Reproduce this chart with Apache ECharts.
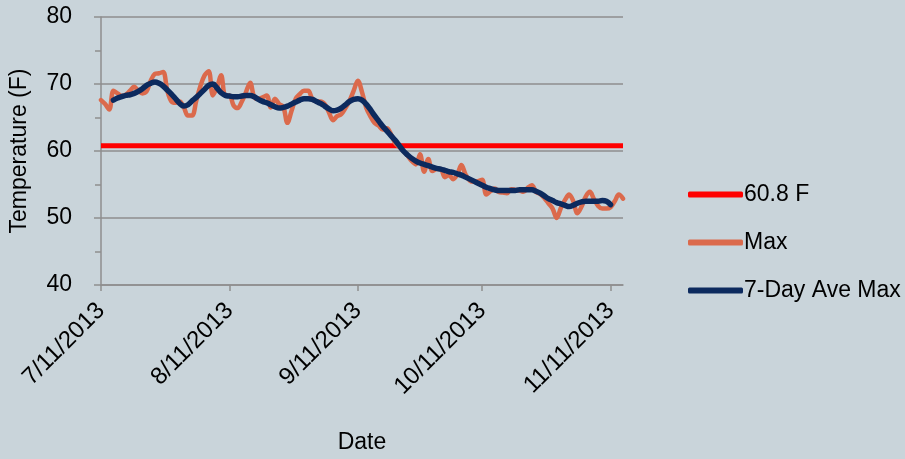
<!DOCTYPE html>
<html>
<head>
<meta charset="utf-8">
<script src="https://cdn.jsdelivr.net/npm/echarts@6/dist/echarts.min.js"></script>
<style>
html,body{margin:0;padding:0;background:#C9D4DA;width:100%;height:100%;overflow:hidden;}
#chart{width:100vw;height:100vh;}
</style>
</head>
<body>
<div id="chart"></div>
<script>
// Daily dates 7/11/2013 .. 11/14/2013
const startDate = [2013, 6, 11];
const dayCount = 127;
const categories = [];
for (let i = 0; i < dayCount; i++) {
  const d = new Date(Date.UTC(startDate[0], startDate[1], startDate[2] + i));
  categories.push((d.getUTCMonth() + 1) + '/' + d.getUTCDate() + '/' + d.getUTCFullYear());
}

const thresholdValue = 60.8;

const maxTemp = [
  67.6, 67.0, 66.2, 69.0, 68.6, 68.2, 68.4, 69.0, 69.6, 69.0,
  68.6, 68.9, 70.5, 71.5, 71.6, 71.8, 69.0, 67.4, 67.2, 67.4,
  66.5, 65.3, 65.3, 67.5, 69.7, 71.3, 71.9, 68.3, 69.5, 71.3,
  68.3, 68.3, 66.8, 66.4, 67.4, 68.8, 70.2, 68.0, 67.8, 68.0,
  68.3, 66.5, 67.8, 67.0, 66.6, 64.2, 66.0, 67.8, 68.5, 69.0,
  69.0, 67.8, 67.4, 67.4, 67.0, 65.8, 64.6, 65.2, 65.5, 66.4,
  67.5, 69.0, 70.5, 68.8, 66.5, 65.2, 64.2, 63.8, 63.2, 63.4,
  62.5, 61.2, 60.6, 60.0, 59.3, 58.5, 58.0, 59.5, 56.9, 58.8,
  57.0, 57.3, 57.3, 56.1, 56.4, 55.8, 56.5, 57.9, 56.5, 55.6,
  55.4, 55.5, 55.7, 53.5, 54.0, 54.4, 53.9, 53.8, 53.7, 54.3,
  54.2, 54.1, 53.9, 54.5, 54.9, 53.9, 53.6, 53.0, 52.2, 51.4,
  50.0, 51.5, 52.7, 53.5, 52.5, 50.7, 51.7, 53.2, 53.9, 52.8,
  51.8, 51.4, 51.4, 51.6, 52.5, 53.5, 52.9
];

const aveMax7 = [
  null, null, null, 67.6, 67.9, 68.1, 68.3, 68.4, 68.6, 68.9,
  69.3, 69.8, 70.1, 70.3, 70.1, 69.7, 69.1, 68.5, 67.8, 67.1,
  66.7, 66.9, 67.5, 68.0, 68.6, 69.2, 69.8, 70.0, 69.4, 68.7,
  68.3, 68.2, 68.1, 68.1, 68.2, 68.3, 68.3, 68.1, 67.7, 67.4,
  67.2, 66.9, 66.6, 66.4, 66.5, 66.7, 67.0, 67.3, 67.6, 67.8,
  67.8, 67.7, 67.4, 67.1, 66.7, 66.3, 66.0, 66.1, 66.4, 66.9,
  67.4, 67.7, 67.8, 67.6, 67.0, 66.2, 65.3, 64.5, 63.7, 63.0,
  62.3, 61.6, 60.8, 60.0, 59.4, 58.9, 58.5, 58.2, 58.0, 57.8,
  57.6, 57.4, 57.3, 57.1, 56.9, 56.8, 56.6, 56.4, 56.1, 55.8,
  55.5, 55.2, 54.9, 54.6, 54.4, 54.2, 54.1, 54.1, 54.1, 54.1,
  54.1, 54.2, 54.2, 54.2, 54.2, 54.0, 53.7, 53.3, 52.9, 52.6,
  52.3, 52.1, 51.9, 51.7, 51.9, 52.2, 52.4, 52.5, 52.5, 52.5,
  52.5, 52.6, 52.5, 52.0, null, null, null
];

const thresholdSeries = categories.map(() => thresholdValue);
const seriesNames = ['60.8 F', 'Max', '7-Day Ave Max'];
const yTicks = { min: 40, max: 80, step: 10 };

const FONT = 'Liberation Sans';
const FS = 23;
const gridColor = '#8E8E8E';
const isLabelDay = (idx, val) => val.split('/')[1] === '11';

const chart = echarts.init(document.getElementById('chart'), null, { renderer: 'canvas' });
chart.setOption({
  backgroundColor: '#C9D4DA',
  animation: false,
  textStyle: { fontFamily: FONT, color: '#000' },
  grid: { left: 97, right: 282, top: 17, bottom: 168, containLabel: false },
  legend: {
    orient: 'vertical',
    left: 683,
    top: 178,
    itemWidth: 55,
    itemHeight: 6,
    itemGap: 25,
    icon: 'roundRect',
    textStyle: { fontFamily: FONT, fontSize: FS, color: '#000', padding: [0, 0, 0, -4] },
    data: seriesNames
  },
  xAxis: {
    type: 'category',
    data: categories,
    boundaryGap: false,
    name: 'Date',
    nameLocation: 'middle',
    nameGap: 146,
    nameTextStyle: { fontFamily: FONT, fontSize: FS, color: '#000' },
    axisLine: { lineStyle: { color: gridColor, width: 1.5 } },
    axisTick: { show: true, interval: isLabelDay, length: 6, lineStyle: { color: gridColor, width: 1.5 } },
    axisLabel: {
      interval: isLabelDay,
      rotate: 45,
      margin: 22,
      fontFamily: FONT,
      fontSize: 24,
      color: '#000'
    },
    splitLine: { show: false }
  },
  yAxis: {
    type: 'value',
    min: yTicks.min,
    max: yTicks.max,
    interval: yTicks.step,
    name: 'Temperature (F)',
    nameLocation: 'middle',
    nameGap: 70,
    nameRotate: 90,
    nameTextStyle: { fontFamily: FONT, fontSize: FS, color: '#000' },
    axisLine: { show: true, lineStyle: { color: gridColor, width: 1.5 } },
    axisTick: { show: true, length: 7, lineStyle: { color: gridColor, width: 1.5 } },
    minorTick: { show: true, splitNumber: 2, length: 6, lineStyle: { color: gridColor, width: 1.5 } },
    axisLabel: { margin: 29, fontFamily: FONT, fontSize: FS, color: '#000' },
    splitLine: { show: true, lineStyle: { color: gridColor, width: 1.5 } }
  },
  series: [
    {
      name: seriesNames[0],
      type: 'line',
      data: thresholdSeries,
      symbol: 'none',
      lineStyle: { color: '#FF0000', width: 5 },
      itemStyle: { color: '#FF0000' },
      z: 2
    },
    {
      name: seriesNames[1],
      type: 'line',
      data: maxTemp,
      symbol: 'none',
      smooth: 0.35,
      lineStyle: { color: '#DB6A4C', width: 4.5, cap: 'round', join: 'round' },
      itemStyle: { color: '#DB6A4C' },
      z: 3
    },
    {
      name: seriesNames[2],
      type: 'line',
      data: aveMax7,
      symbol: 'none',
      smooth: 0.4,
      connectNulls: false,
      lineStyle: { color: '#0C2A5E', width: 5.5, cap: 'round', join: 'round' },
      itemStyle: { color: '#0C2A5E' },
      z: 4
    }
  ]
});
</script>
</body>
</html>
